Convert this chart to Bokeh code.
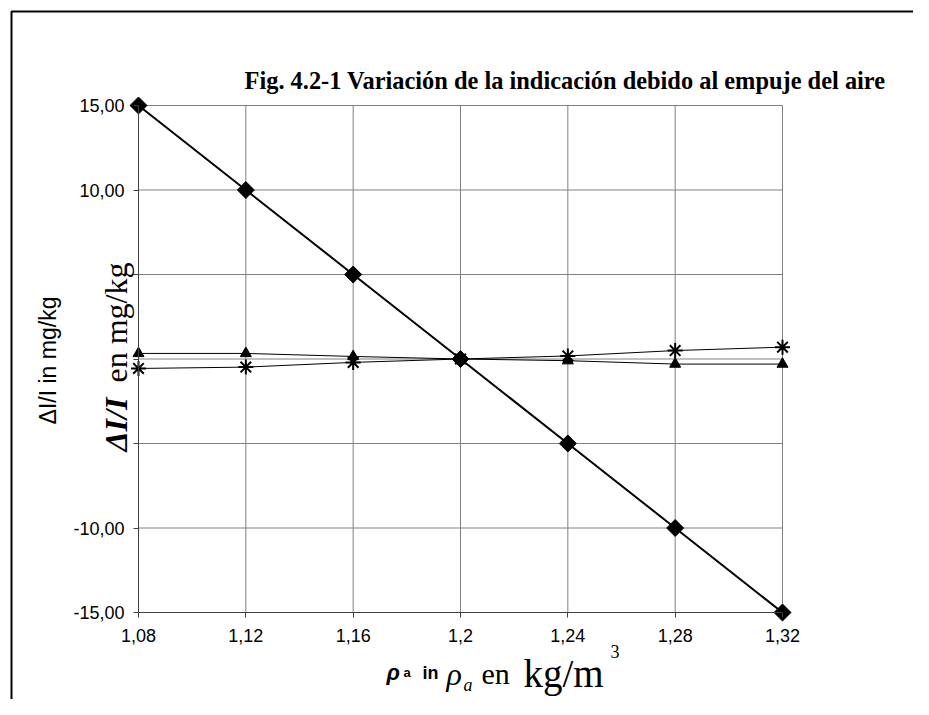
import math
from bokeh.plotting import figure
from bokeh.models import Label, FixedTicker, Range1d, BoxAnnotation
from bokeh.embed import file_html
from bokeh.resources import INLINE

# ---- data ----
density = [1.08, 1.12, 1.16, 1.20, 1.24, 1.28, 1.32]
diamond_vals = [15.0, 10.0, 5.0, 0.0, -5.0, -10.0, -15.0]
triangle_vals = [0.33, 0.33, 0.15, 0.0, -0.10, -0.30, -0.30]
star_vals = [-0.56, -0.48, -0.20, 0.0, 0.18, 0.50, 0.70]

x_ticks = [1.08, 1.12, 1.16, 1.20, 1.24, 1.28, 1.32]
x_tick_labels = ["1,08", "1,12", "1,16", "1,2", "1,24", "1,28", "1,32"]
y_ticks = [-15, -10, -5, 0, 5, 10, 15]
y_tick_labels = ["-15,00", "-10,00", "", "", "", "10,00", "15,00"]

title_text = "Fig. 4.2-1 Variación de la indicación debido al empuje del aire"

# ---- layout (page pixels of the axis box) ----
X0, X1 = 1.08, 1.32
Y0, Y1 = -15.0, 15.0
L, R, T, B = 138, 782, 105, 612   # page px of the x/y extents
OFF = 0                            # page px of the canvas origin (measured)
W, H = 913, 699
BASE = 8                           # correction for rendered text baseline
xs = (X1 - X0) / (R - L)
ys = (Y1 - Y0) / (B - T)

def dx(px):
    return X0 + (px - L) * xs

def dy(py):
    return Y1 - (py - T) * ys

p = figure(width=W, height=H, output_backend="svg", toolbar_location=None,
           x_range=Range1d(dx(OFF), dx(OFF + W)),
           y_range=Range1d(dy(OFF + H), dy(OFF)),
           min_border=0, min_border_left=0, min_border_right=0,
           min_border_top=0, min_border_bottom=0)
p.outline_line_color = None
p.xgrid.grid_line_color = None
p.ygrid.grid_line_color = None
p.background_fill_color = "white"
p.border_fill_color = "white"

# outer frame of the chart object (top and left edges visible)
p.add_layout(BoxAnnotation(left=dx(11), top=dy(11), right=dx(960), bottom=dy(760),
                           fill_color=None, fill_alpha=0, line_color="black",
                           line_width=2, line_alpha=1))

# grid lines from the tick arrays
p.segment(x0=x_ticks, y0=[Y0] * len(x_ticks), x1=x_ticks, y1=[Y1] * len(x_ticks),
          line_color="#808080", line_width=1)
p.segment(x0=[X0] * len(y_ticks), y0=y_ticks, x1=[X1] * len(y_ticks), y1=y_ticks,
          line_color="#808080", line_width=1)

# axes
for ax in p.xaxis:
    ax.ticker = FixedTicker(ticks=x_ticks)
    ax.major_label_overrides = {t: s for t, s in zip(x_ticks, x_tick_labels)}
    ax.fixed_location = Y0
    ax.bounds = (X0, X1)
for ax in p.yaxis:
    ax.ticker = FixedTicker(ticks=y_ticks)
    ax.major_label_overrides = {t: s for t, s in zip(y_ticks, y_tick_labels)}
    ax.fixed_location = X0
    ax.bounds = (Y0, Y1)
for ax in list(p.xaxis) + list(p.yaxis):
    ax.axis_line_color = "#404040"
    ax.axis_line_width = 1
    ax.major_tick_line_color = "#404040"
    ax.major_tick_out = 5
    ax.major_tick_in = 0
    ax.minor_tick_line_color = None
    ax.major_label_text_font = "Liberation Sans"
    ax.major_label_text_font_size = "18px"
    ax.major_label_text_color = "black"
p.xaxis.major_label_standoff = 11
p.yaxis.major_label_standoff = 9

# series
p.line(density, triangle_vals, line_color="black", line_width=1)
p.line(density, star_vals, line_color="black", line_width=1)
p.line(density, diamond_vals, line_color="black", line_width=2)
p.scatter(density, triangle_vals, marker="triangle", size=11,
          fill_color="black", line_color="black")
p.scatter(density, star_vals, marker="asterisk", size=15,
          line_color="black", line_width=2)
p.scatter(density, diamond_vals, marker="square", size=12, angle=math.pi / 4,
          fill_color="black", line_color="black")

# title
p.add_layout(Label(x=dx(885), y=dy(88 - BASE), text=title_text, text_align="right",
                   text_baseline="alphabetic", text_font="Liberation Serif",
                   text_font_style="bold", text_font_size="24.4px", text_color="black"))

# y axis labels
p.add_layout(Label(x=dx(47), y=dy(360), text="ΔI/I in mg/kg", angle=math.pi / 2,
                   text_align="center", text_baseline="middle",
                   text_font="Liberation Sans", text_font_size="23px", text_color="black"))
p.add_layout(Label(x=dx(115), y=dy(451), text="ΔI/I", angle=math.pi / 2,
                   text_align="left", text_baseline="alphabetic",
                   text_font="Liberation Serif", text_font_style="bold italic",
                   text_font_size="32px", text_color="black"))
p.add_layout(Label(x=dx(115), y=dy(382), text="en mg/kg", angle=math.pi / 2,
                   text_align="left", text_baseline="alphabetic",
                   text_font="Liberation Serif", text_font_size="32px", text_color="black"))

# x axis label pieces
def xlab(px, py, txt, size, font="Liberation Serif", style="normal"):
    p.add_layout(Label(x=dx(px), y=dy(py - BASE), text=txt, text_align="left",
                       text_baseline="alphabetic", text_font=font,
                       text_font_style=style, text_font_size=size, text_color="black"))

xlab(386, 680, "ρ", "22px", "Liberation Sans", "bold italic")
xlab(403, 680, "a", "13px", "Liberation Sans", "bold")
xlab(422, 680, "in", "18px", "Liberation Sans", "bold")
xlab(446, 681, "ρ", "32px", "Liberation Serif", "italic")
xlab(463, 692, "a", "18px", "Liberation Serif", "italic")
xlab(481, 681, "en", "30px")
xlab(523, 681, "kg/m", "39px")
xlab(610, 659, "3", "18px")

open("out.html", "w").write(file_html(p, INLINE))
